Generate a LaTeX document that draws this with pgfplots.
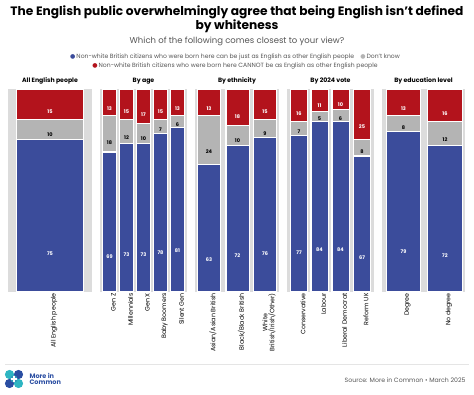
\documentclass[border=0pt]{standalone}
\usepackage{pgfplots}
\pgfplotsset{compat=1.18}
\usepackage{pgfplotstable}
\usepackage{fontspec}
\setmainfont{Poppins}
\newfontfamily\dejavu{DejaVu Sans}
\definecolor{cblue}{HTML}{3B4C9B}
\definecolor{cred}{HTML}{B3131C}
\definecolor{cgray}{HTML}{B4B4B4}
\definecolor{cbg}{HTML}{DCDCDC}
\definecolor{ctext}{HTML}{555555}
\definecolor{lteal}{HTML}{2EB5C2}
\definecolor{lblue}{HTML}{2B4EA2}
\newcommand{\apos}{\char"0027}

\pgfplotstableread{
x a b c
50 75 10 15
}\tabAll
\pgfplotstableread{
x a b c
109.5 69 18 13
126.5 73 12 15
143.5 73 10 17
160.5 78 7 15
177.5 81 6 13
}\tabAge
\pgfplotstableread{
x a b c
209 63 24 13
237.5 72 10 18
265 76 9 15
}\tabEth
\pgfplotstableread{
x a b c
299 77 7 16
319.5 84 5 11
340.5 84 6 10
362 67 8 25
}\tabVote
\pgfplotstableread{
x a b c
403.5 79 8 13
445 72 12 16
}\tabEdu

\pgfplotsset{
  panel/.style={
    scale only axis, height=203pt, ymin=0, ymax=100,
    ybar stacked, anchor=south west,
    axis background/.style={fill=cbg},
    axis line style={draw=none},
    ytick=\empty, major tick length=0pt, xtick=data,
    xticklabel style={rotate=90, anchor=east, align=center,
      font=\fontsize{6.3}{7}\selectfont, inner sep=1pt, yshift=-4pt},
    every axis title/.style={at={(0.5,1)}, anchor=south, yshift=1pt,
      font=\bfseries\fontsize{6.2}{7}\selectfont},
    clip=false,
    point meta=explicit,
    nodes near coords={\pgfmathprintnumber[assume math mode=true]{\pgfplotspointmeta}},
    every node near coord/.append style={anchor=center,
      font=\bfseries\fontsize{5}{5}\selectfont, yshift=-\val*0.5075pt},
  },
  sA/.style={fill=cblue, draw=white, line width=1.2pt,
    visualization depends on={\thisrow{a}\as\val},
    every node near coord/.append style={text=white}},
  sB/.style={fill=cgray, draw=white, line width=1.2pt,
    visualization depends on={\thisrow{b}\as\val},
    every node near coord/.append style={text=black}},
  sC/.style={fill=cred, draw=white, line width=1.2pt,
    visualization depends on={\thisrow{c}\as\val},
    every node near coord/.append style={text=white}},
}

\begin{document}
\begin{tikzpicture}
\useasboundingbox (0,0) rectangle (474pt,-395pt);

\node[font=\bfseries\fontsize{12.2}{14.5}\selectfont, align=center, anchor=north]
  at (237pt,-2pt) {The English public overwhelmingly agree that being English isn\apos t defined\\by whiteness};
\node[font=\fontsize{8.5}{9}\selectfont, text=ctext] at (237pt,-41pt)
  {Which of the following comes closest to your view?};
\node[font=\fontsize{6.1}{7}\selectfont, text=ctext] at (235pt,-57pt)
  {{\dejavu\textcolor{cblue}{●}}\,Non-white British citizens who were born here can be just as English as other English people\quad{\dejavu\textcolor{cgray}{●}}\,Don\apos t know};
\node[font=\fontsize{6.1}{7}\selectfont, text=ctext] at (235pt,-66pt)
  {{\dejavu\textcolor{cred}{●}}\,Non-white British citizens who were born here CANNOT be as English as other English people};

% Panel 1
\begin{axis}[panel, at={(8pt,-292pt)}, width=84pt, xmin=8, xmax=92, bar width=67.2,
  title={All English people}, xticklabels={All English people}]
\addplot[sA] table[x=x, y=a, meta=a] {\tabAll};
\addplot[sB] table[x=x, y=b, meta=b] {\tabAll};
\addplot[sC] table[x=x, y=c, meta=c] {\tabAll};
\end{axis}

% Panel 2
\begin{axis}[panel, at={(100pt,-292pt)}, width=87pt, xmin=100, xmax=187, bar width=13.7,
  title={By age}, xticklabels={Gen Z, Millennials, Gen X, Baby Boomers, Silent Gen}]
\addplot[sA] table[x=x, y=a, meta=a] {\tabAge};
\addplot[sB] table[x=x, y=b, meta=b] {\tabAge};
\addplot[sC] table[x=x, y=c, meta=c] {\tabAge};
\end{axis}

% Panel 3
\begin{axis}[panel, at={(195pt,-292pt)}, width=84pt, xmin=195, xmax=279, bar width=23.2,
  title={By ethnicity}, xticklabels={Asian/Asian British, Black/Black British, {White\\British/Irish/Other)}}]
\addplot[sA] table[x=x, y=a, meta=a] {\tabEth};
\addplot[sB] table[x=x, y=b, meta=b] {\tabEth};
\addplot[sC] table[x=x, y=c, meta=c] {\tabEth};
\end{axis}

% Panel 4
\begin{axis}[panel, at={(287pt,-292pt)}, width=87pt, xmin=287, xmax=374, bar width=17.2,
  title={By 2024 vote}, xticklabels={Conservative, Labour, Liberal Democrat, Reform UK}]
\addplot[sA] table[x=x, y=a, meta=a] {\tabVote};
\addplot[sB] table[x=x, y=b, meta=b] {\tabVote};
\addplot[sC] table[x=x, y=c, meta=c] {\tabVote};
\end{axis}

% Panel 5
\begin{axis}[panel, at={(382pt,-292pt)}, width=83pt, xmin=382, xmax=465, bar width=34.7,
  title={By education level}, xticklabels={Degree, No degree}]
\addplot[sA] table[x=x, y=a, meta=a] {\tabEdu};
\addplot[sB] table[x=x, y=b, meta=b] {\tabEdu};
\addplot[sC] table[x=x, y=c, meta=c] {\tabEdu};
\end{axis}

% footer
\draw[color=black!10, line width=0.6pt] (5pt,-364pt) -- (469pt,-364pt);
\fill[lteal] (9.5pt,-374.5pt) circle (4.6pt);
\fill[lblue] (18.5pt,-374.5pt) circle (4.6pt);
\fill[lblue] (9.5pt,-383.5pt) circle (4.6pt);
\fill[lteal] (18.5pt,-383.5pt) circle (4.6pt);
\fill[lteal!70!lblue] (14pt,-379pt) circle (3.6pt);
\fill[white] (12.9pt,-381.6pt) rectangle (15.1pt,-376.4pt);
\fill[white] (11.4pt,-380.1pt) rectangle (16.6pt,-377.9pt);
\node[anchor=west, align=left, font=\bfseries\fontsize{6.5}{6.8}\selectfont, text=lblue]
  at (26pt,-379pt) {More in\\Common};
\node[anchor=east, font=\fontsize{6.2}{7}\selectfont, text=ctext] at (469pt,-380pt)
  {Source: More in Common • March 2025};
\end{tikzpicture}
\end{document}
